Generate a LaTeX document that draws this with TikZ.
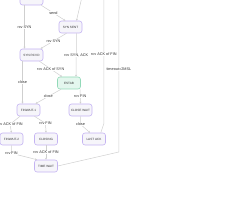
\documentclass[tikz,border=0pt]{standalone}
\usepackage{fontspec}
\setmainfont{Liberation Sans}
\usetikzlibrary{arrows.meta}
\definecolor{stateline}{HTML}{C4B3F2}
\definecolor{statefill}{HTML}{F6F5FA}
\definecolor{establine}{HTML}{92D9B8}
\definecolor{estabfill}{HTML}{E4F7EE}
\definecolor{edgegray}{HTML}{CFCFCF}
\definecolor{txtgray}{HTML}{333333}
\begin{document}
\begin{tikzpicture}[x=1pt, y=-1pt,
            state/.style={draw=stateline, fill=statefill, line width=0.6pt,
                    rounded corners=2.5pt, minimum width=23pt, minimum height=12pt,
                    inner sep=0pt, font=\fontsize{3.1}{3.6}\selectfont, text=txtgray},
            estab/.style={state, draw=establine, fill=estabfill},
            tr/.style={draw=edgegray, line width=0.5pt, -{Stealth[length=2pt, width=2pt]}},
            lab/.style={font=\fontsize{3.8}{4.4}\selectfont, text=txtgray,
                    fill=white, inner sep=0.4pt}
        ]
        \useasboundingbox (0,0) rectangle (240,216);
        \clip (0,0) rectangle (240,216);

        \node[state] (listen) at (31.5,-1) {LISTEN};
        \node[state] (synsent) at (70.5,27) {SYN SENT};
        \node[state] (synrcvd) at (31.5,55) {SYN RCVD};
        \node[estab] (estab) at (69,83) {ESTAB};
        \node[state] (finwait1) at (28.5,110) {FINWAIT-1};
        \node[state] (closewait) at (80.5,110) {CLOSE WAIT};
        \node[state] (finwait2) at (11.5,139) {FINWAIT-2};
        \node[state] (closing) at (46,139) {CLOSING};
        \node[state] (lastack) at (94,139) {LAST ACK};
        \node[state] (timewait) at (46,166) {TIME WAIT};

        % CLOSED sits above the visible area
        \coordinate (closedL) at (84,-12);
        \coordinate (closedM) at (104,-16);
        \coordinate (closedR) at (119,-14);

        \draw[tr] ([xshift=-7pt]listen.south) -- node[lab] {rcv SYN} ([xshift=-7pt]synrcvd.north);
        \draw[tr] ([xshift=-2pt]listen.south east) -- node[lab] {send} ([xshift=-5pt]synsent.north);
        \draw[tr] (closedL) -- ([xshift=6pt]synsent.north);
        \draw[tr] ([xshift=-4pt]synsent.south) -- node[lab] {rcv SYN} ([xshift=9pt]synrcvd.north);
        \draw[tr] ([xshift=6pt]synsent.south) -- node[lab] {rcv SYN, ACK} ([xshift=7pt]estab.north);
        \draw[tr] ([xshift=8pt]synrcvd.south) -- node[lab] {rcv ACK of SYN} ([xshift=-7pt]estab.north);
        \draw[tr] ([xshift=-9pt]synrcvd.south) -- node[lab] {close} ([xshift=-6pt]finwait1.north);
        \draw[tr] ([xshift=-8pt]estab.south) -- node[lab] {close} ([xshift=7pt]finwait1.north);
        \draw[tr] ([xshift=11pt]estab.south) -- node[lab] {rcv FIN} (closewait.north);
        \draw[tr] ([xshift=-8.5pt]finwait1.south) -- ++(-10,8) node[lab] {rcv ACK of FIN} -- (finwait2.north);
        \draw[tr] ([xshift=6pt]finwait1.south) -- ++(11,7) node[lab] {rcv FIN} -- (closing.north);
        \draw[tr] (closewait.south) -- ++(0,8) node[lab] {close} -- ([xshift=-4pt]lastack.north);
        \draw[tr] (finwait2.south) -- ++(0,8) node[lab] {rcv FIN} -- ([xshift=-9pt]timewait.north);
        \draw[tr] (closing.south) -- node[lab] {rcv ACK of FIN} (timewait.north);
        \draw[tr] ([xshift=-5pt]lastack.north east) -- ++(3,-9) -- node[lab] {rcv ACK of FIN} (closedM);
        \draw[tr] (timewait.east) -- ++(61,-14) -- node[lab] {timeout=2MSL} (closedR);
    \end{tikzpicture}
\end{document}
